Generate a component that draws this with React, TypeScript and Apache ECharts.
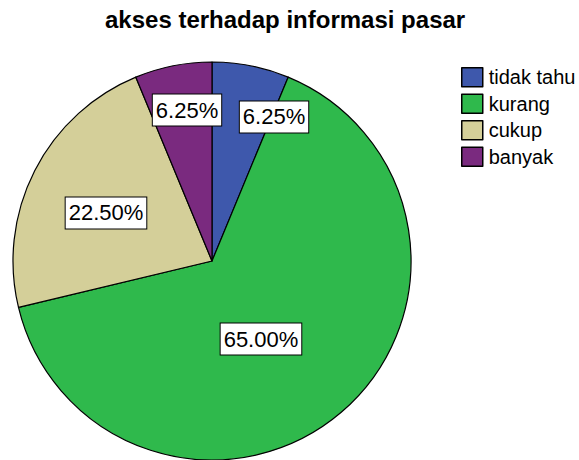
import React, { useEffect, useRef } from "react";
import * as echarts from "echarts";

const titleText = "akses terhadap informasi pasar";
const categories = ["tidak tahu", "kurang", "cukup", "banyak"];
const percentages = [6.25, 65.0, 22.5, 6.25];
const colors = ["#3E58AC", "#2FB94C", "#D4CF99", "#7A2A7F"];

// label placement (layout only): fraction of radius and angle clockwise from 12 o'clock
const labelRadiusFrac = [0.788, 0.463, 0.585, 0.769];
const labelAngleDeg = [23.3, 147.9, 294.4, 350.6];

const CX = 212;
const CY = 261;
const R = 199;

export default function App() {
  const ref = useRef<HTMLDivElement>(null);
  useEffect(() => {
    document.body.style.margin = "0";
    const chart = echarts.init(ref.current!, null, { renderer: "svg" });
    chart.setOption({
      animation: false,
      backgroundColor: "#ffffff",
      title: {
        text: titleText,
        left: 100,
        top: 2,
        textStyle: {
          fontFamily: "Liberation Sans, Arial, sans-serif",
          fontWeight: "bold",
          fontSize: 24,
          color: "#000",
        },
      },
      legend: {
        orient: "vertical",
        left: 456,
        top: 62,
        itemWidth: 21,
        itemHeight: 19,
        itemGap: 6,
        icon: "rect",
        data: categories,
        itemStyle: { borderColor: "#000", borderWidth: 1.5 },
        textStyle: {
          fontFamily: "Liberation Sans, Arial, sans-serif",
          fontSize: 20,
          color: "#000",
          padding: [0, 0, 0, 1],
        },
      },
      series: [
        {
          type: "pie",
          center: [CX, CY],
          radius: R,
          startAngle: 90,
          clockwise: true,
          avoidLabelOverlap: false,
          emphasis: { disabled: true },
          itemStyle: { borderColor: "#000", borderWidth: 1.2 },
          label: {
            show: true,
            position: "inside",
            formatter: (p: any) => p.value.toFixed(2) + "%",
            fontFamily: "Liberation Sans, Arial, sans-serif",
            fontSize: 22,
            color: "#000",
            backgroundColor: "#fff",
            borderColor: "#000",
            borderWidth: 1,
            padding: [5, 3, 4, 3],
          },
          labelLine: { show: false },
          labelLayout: (params: any) => {
            const i = params.dataIndex;
            const a = (labelAngleDeg[i] * Math.PI) / 180;
            const r = labelRadiusFrac[i] * R;
            return {
              x: CX + r * Math.sin(a),
              y: CY - r * Math.cos(a),
              align: "center",
              verticalAlign: "middle",
            };
          },
          data: categories.map((name, i) => ({
            name,
            value: percentages[i],
            itemStyle: { color: colors[i] },
          })),
        },
      ],
    });
    return () => chart.dispose();
  }, []);
  return (
    <div
      ref={ref}
      style={{ position: "fixed", left: 0, top: 0, width: 579, height: 460 }}
    />
  );
}
